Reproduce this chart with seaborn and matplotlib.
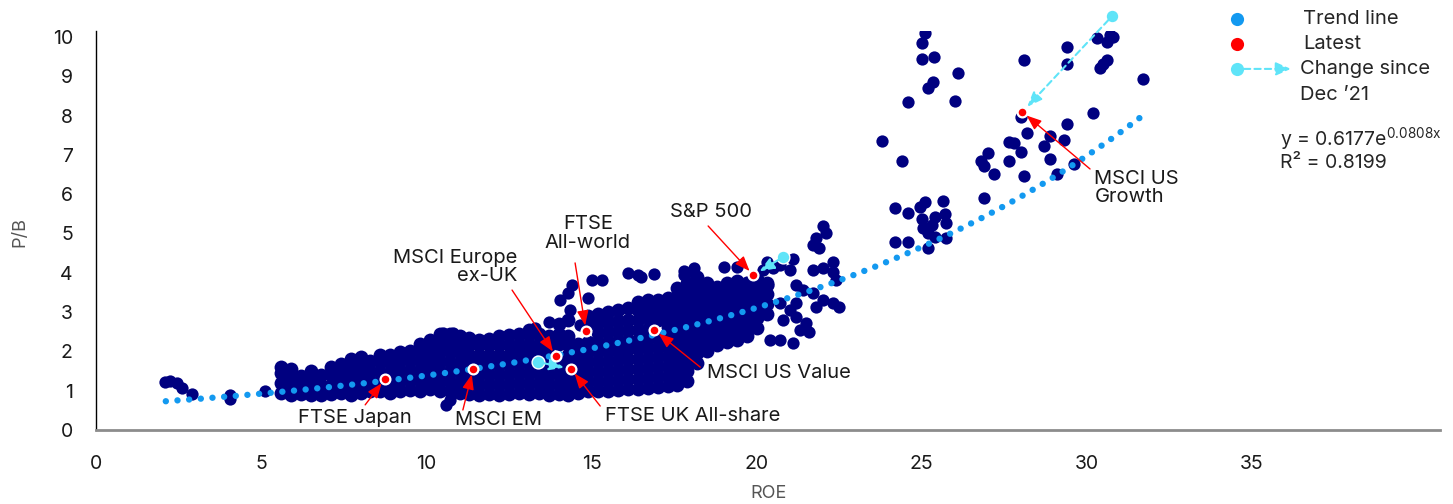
import numpy as np
import pandas as pd
import seaborn as sns
import matplotlib.pyplot as plt

sns.set_style('white')
plt.rcParams['font.family'] = ['Inter', 'DejaVu Sans']
plt.rcParams['mathtext.fontset'] = 'custom'
plt.rcParams['mathtext.rm'] = 'Inter'

NAVY = '#000080'
TREND = '#1399f0'
CYAN = '#5fe4f8'
RED = '#ff0000'

# history of ROE vs P/B, main band, one column of points per ROE value
band_roe = [5.6, 5.9, 6.2, 6.5, 6.8, 7.1, 7.4, 7.7, 8.0, 8.3, 8.6, 8.9, 9.2, 9.5,
            9.8, 10.1, 10.4, 10.7, 11.0, 11.3, 11.6, 11.9, 12.2, 12.5, 12.8, 13.1,
            13.4, 13.7, 14.0, 14.3, 14.6, 14.9, 15.2, 15.5, 15.8, 16.1, 16.4, 16.7,
            17.0, 17.3, 17.6, 17.9, 18.2, 18.5, 18.8, 19.1, 19.4, 19.7, 20.0, 20.3]
band_pb = [
    [0.95, 1.2, 1.45, 1.6], [0.88, 1.1, 1.35, 1.55], [0.92, 1.15, 1.38],
    [0.88, 1.1, 1.32, 1.5], [0.9, 1.15, 1.4], [0.92, 1.15, 1.4, 1.6],
    [0.95, 1.2, 1.45, 1.68], [0.9, 1.15, 1.4, 1.65, 1.8], [0.95, 1.2, 1.45, 1.7, 1.85],
    [1.0, 1.25, 1.5, 1.75], [0.98, 1.22, 1.48, 1.72, 1.9], [0.95, 1.2, 1.45, 1.7, 1.92],
    [1.0, 1.25, 1.5, 1.75, 1.98], [1.02, 1.27, 1.52, 1.77, 2.02],
    [1.0, 1.25, 1.5, 1.75, 2.0, 2.2], [1.05, 1.3, 1.55, 1.8, 2.05, 2.28],
    [1.0, 1.25, 1.5, 1.75, 2.0, 2.25, 2.45], [0.98, 1.22, 1.48, 1.72, 1.98, 2.22, 2.45],
    [0.95, 1.2, 1.45, 1.7, 1.95, 2.2, 2.4], [0.92, 1.17, 1.42, 1.67, 1.92, 2.17, 2.35],
    [0.9, 1.15, 1.4, 1.65, 1.9, 2.15, 2.3], [0.92, 1.17, 1.42, 1.67, 1.92, 2.17, 2.32],
    [0.9, 1.15, 1.4, 1.65, 1.9, 2.15, 2.38], [0.92, 1.17, 1.42, 1.67, 1.92, 2.17, 2.42],
    [0.95, 1.2, 1.45, 1.7, 1.95, 2.2, 2.45], [0.92, 1.17, 1.42, 1.67, 1.92, 2.17, 2.42, 2.55],
    [0.95, 1.2, 1.45, 1.7, 1.95, 2.2, 2.45], [0.9, 1.15, 1.4, 1.65, 1.9, 2.15, 2.4],
    [0.92, 1.17, 1.42, 1.67, 2.2, 2.45, 2.7], [0.9, 1.15, 1.4, 1.65, 1.9, 2.15, 2.4, 2.8],
    [0.95, 1.2, 1.45, 1.7, 1.95, 2.2], [1.0, 1.25, 1.5, 1.75, 2.0, 2.25, 2.7, 2.9],
    [0.98, 1.22, 1.48, 1.72, 1.98, 2.22, 2.48, 2.72, 2.95],
    [1.0, 1.25, 1.5, 1.75, 2.0, 2.25, 2.5, 2.75, 3.0],
    [1.02, 1.27, 1.52, 1.77, 2.02, 2.27, 2.52, 2.77, 3.05],
    [1.05, 1.3, 1.55, 1.8, 2.05, 2.3, 2.55, 2.8, 3.1],
    [1.05, 1.3, 1.55, 1.8, 2.05, 2.3, 2.55, 2.8, 3.05, 3.25],
    [1.08, 1.33, 1.58, 1.83, 2.08, 2.33, 2.58, 2.85, 3.1, 3.3],
    [1.1, 1.35, 1.6, 1.85, 2.1, 2.35, 2.8, 3.05, 3.3],
    [1.12, 1.37, 1.62, 1.87, 2.12, 2.37, 2.62, 2.87, 3.12, 3.35],
    [1.15, 1.4, 1.65, 1.9, 2.15, 2.4, 2.65, 2.9, 3.15, 3.4, 3.6],
    [1.25, 1.5, 1.75, 2.0, 2.25, 2.5, 2.75, 3.0, 3.25, 3.5, 3.75],
    [1.7, 1.95, 2.2, 2.45, 2.7, 2.95, 3.2, 3.45, 3.7, 3.9],
    [2.0, 2.25, 2.5, 2.75, 3.0, 3.25, 3.5, 3.75],
    [2.15, 2.4, 2.65, 2.9, 3.15, 3.4, 3.65],
    [2.25, 2.5, 2.75, 3.0, 3.25, 3.5, 3.75],
    [2.3, 2.55, 2.8, 3.05, 3.3, 3.55, 3.8],
    [2.4, 2.65, 2.9, 3.15, 3.4, 3.65],
    [2.6, 2.85, 3.1, 3.35, 3.6, 3.85],
    [2.95, 3.2, 3.45, 3.75],
]

# scattered points outside the band
low_roe = [2.08, 2.23, 2.44, 2.6, 2.9, 4.05, 4.05, 5.1, 10.7, 10.6]
low_pb = [1.22, 1.25, 1.2, 1.07, 0.92, 0.89, 0.8, 1.0, 0.76, 0.64]

mid_roe = [16.1, 16.4, 16.5, 16.9, 17.8, 18.1, 15.0, 15.3, 14.4, 14.3, 14.05, 14.9,
           14.35, 13.7, 13.3, 14.65, 15.2, 10.5, 10.8, 18.1, 17.8]
mid_pb = [4.0, 3.94, 3.89, 3.97, 3.94, 4.0, 3.82, 3.82, 3.69, 3.49, 3.31, 3.36,
          3.05, 2.75, 2.6, 2.67, 2.75, 2.47, 2.47, 4.12, 4.05]

right_roe = [22.0, 22.1, 21.8, 21.7, 21.9, 21.1, 20.7, 21.0, 20.3, 20.2, 20.5, 19.0,
             19.4, 19.7, 20.1, 20.35, 21.7, 22.0, 22.3, 22.3, 22.4, 21.2, 21.4, 21.7,
             22.0, 21.8, 22.3, 22.5, 21.2, 21.0, 21.2, 21.5, 21.3, 21.6, 20.8, 20.7,
             20.4, 20.7, 21.1]
right_pb = [5.19, 5.01, 4.89, 4.71, 4.63, 4.35, 4.2, 4.07, 4.27, 4.07, 4.12, 4.15,
            4.15, 3.77, 3.69, 3.69, 4.07, 4.12, 4.27, 4.02, 3.82, 3.69, 3.56, 3.49,
            3.31, 3.13, 3.23, 3.13, 3.23, 3.05, 2.88, 2.72, 2.54, 2.49, 2.8, 3.23,
            2.29, 2.29, 2.21]

high_roe = [25.1, 25.0, 25.0, 25.38, 26.1, 25.35, 25.2, 24.6, 26.0, 23.8, 24.4, 28.1,
            29.4, 29.4, 30.3, 30.6, 30.7, 30.8, 30.6, 30.5, 30.4, 31.7, 30.2, 29.4,
            28.0, 28.2, 28.9, 29.3, 28.7, 27.65, 27.8, 27.0, 26.8, 26.9, 27.65, 28.0,
            28.9, 29.6, 27.2, 28.1, 29.1, 26.9, 24.2, 24.6, 24.95, 25.1, 25.65, 25.0,
            25.4, 25.7, 25.05, 25.3, 25.75, 25.2, 25.4, 25.75, 24.2, 24.6, 25.2]
high_pb = [10.1, 9.85, 9.44, 9.49, 9.08, 8.85, 8.7, 8.35, 8.37, 7.35, 6.85, 9.41,
           9.75, 9.31, 9.97, 9.87, 10.05, 10.0, 9.41, 9.31, 9.21, 8.93, 8.07, 7.79,
           7.96, 7.56, 7.48, 7.38, 7.23, 7.33, 7.3, 7.05, 6.84, 6.72, 6.84, 7.07,
           6.9, 6.77, 6.51, 6.46, 6.51, 5.9, 5.65, 5.52, 5.67, 5.8, 5.83, 5.37,
           5.42, 5.5, 5.14, 5.22, 5.27, 5.01, 4.91, 4.89, 4.78, 4.78, 4.63]

# latest readings
latest_names = ['FTSE Japan', 'MSCI EM', 'MSCI Europe ex-UK', 'FTSE UK All-share',
                'FTSE All-world', 'MSCI US Value', 'S&P 500', 'MSCI US Growth']
latest_roe = [8.74, 11.41, 13.92, 14.38, 14.83, 16.9, 19.9, 28.05]
latest_pb = [1.30, 1.55, 1.88, 1.55, 2.52, 2.54, 3.94, 8.09]

# Dec '21 readings (where shown)
dec21_names = ['FTSE UK All-share', 'S&P 500', 'MSCI US Growth']
dec21_roe = [13.38, 20.8, 30.77]
dec21_pb = [1.73, 4.40, 10.53]

# exponential trend shown on the chart
trend_a, trend_b = 0.6177, 0.0808
trend_start, trend_end = 2.1, 31.6

band = pd.DataFrame({
    'roe': [x for x, ys in zip(band_roe, band_pb) for _ in ys],
    'pb': [y for ys in band_pb for y in ys],
})
loose = pd.DataFrame({
    'roe': low_roe + mid_roe + right_roe + high_roe,
    'pb': low_pb + mid_pb + right_pb + high_pb,
})
trend_x = np.linspace(trend_start, trend_end, 300)
trend_y = trend_a * np.exp(trend_b * trend_x)

fig, ax = plt.subplots(figsize=(14.53, 5.04), dpi=100)
fig.subplots_adjust(left=0.0664, right=0.991, bottom=0.1468, top=0.9385)

sns.scatterplot(data=band, x='roe', y='pb', color=NAVY, s=100, linewidth=0, ax=ax, zorder=2)
sns.scatterplot(data=loose, x='roe', y='pb', color=NAVY, s=78, linewidth=0, ax=ax, zorder=2)
sns.lineplot(x=trend_x, y=trend_y, color=TREND, lw=4.6, linestyle=(0, (0.01, 1.82)),
             dash_capstyle='round', ax=ax, zorder=3)
sns.scatterplot(x=dec21_roe, y=dec21_pb, color=CYAN, s=85, edgecolor='white', linewidth=1,
                ax=ax, zorder=4, clip_on=False)
sns.scatterplot(x=latest_roe, y=latest_pb, color=RED, s=50, edgecolor='white', linewidth=1.6,
                ax=ax, zorder=6)

# change since Dec '21
for name, x0, y0 in zip(dec21_names, dec21_roe, dec21_pb):
    i = latest_names.index(name)
    ax.annotate('', xy=(latest_roe[i], latest_pb[i]), xytext=(x0, y0),
                arrowprops=dict(arrowstyle='-|>,head_length=0.9,head_width=0.35', color=CYAN,
                                lw=1.5, ls=(0, (3, 2)), shrinkA=4, shrinkB=5), zorder=5)

# labels: text position, alignment, arrow tail
labels = {
    'FTSE Japan': ('FTSE Japan', 7.83, 0.31, 'center', (8.14, 0.64)),
    'MSCI EM': ('MSCI EM', 12.17, 0.25, 'center', (11.1, 0.51)),
    'MSCI Europe ex-UK': ('MSCI Europe\nex-UK', 12.74, 4.15, 'right', (12.59, 3.56)),
    'FTSE All-world': ('FTSE\nAll-world', 14.89, 5.0, 'center', (14.5, 4.25)),
    'S&P 500': ('S&P 500', 18.62, 5.55, 'center', (18.53, 5.19)),
    'MSCI US Value': ('MSCI US Value', 18.5, 1.45, 'left', (18.29, 1.6)),
    'FTSE UK All-share': ('FTSE UK All-share', 15.41, 0.36, 'left', (15.26, 0.61)),
    'MSCI US Growth': ('MSCI US\nGrowth', 30.23, 6.16, 'left', (30.1, 6.64)),
}
for name, x, y in zip(latest_names, latest_roe, latest_pb):
    txt, tx, ty, ha, tail = labels[name]
    ax.text(tx, ty, txt, ha=ha, va='center', multialignment=ha, fontsize=14.5,
            color='#1a1a1a', linespacing=1.05, zorder=7)
    ax.annotate('', xy=(x, y), xytext=tail,
                arrowprops=dict(arrowstyle='-|>,head_length=0.9,head_width=0.35', color=RED,
                                lw=1, shrinkA=0, shrinkB=4), zorder=7)

# legend
ax.scatter([0.849], [1.030], s=90, color=TREND, transform=ax.transAxes, clip_on=False, lw=0)
ax.scatter([0.849], [0.968], s=90, color=RED, transform=ax.transAxes, clip_on=False, lw=0)
ax.scatter([0.849], [0.905], s=90, color=CYAN, transform=ax.transAxes, clip_on=False, lw=0)
ax.annotate('', xy=(0.889, 0.905), xytext=(0.849, 0.905), xycoords='axes fraction',
            arrowprops=dict(arrowstyle='-|>,head_length=0.9,head_width=0.4', color=CYAN,
                            lw=1.5, ls=(0, (3, 2)), shrinkA=5, shrinkB=0))
ax.text(0.898, 1.030, 'Trend line', transform=ax.transAxes, va='center', fontsize=14.5)
ax.text(0.898, 0.967, 'Latest', transform=ax.transAxes, va='center', fontsize=14.5)
ax.text(0.896, 0.905, 'Change since', transform=ax.transAxes, va='center', fontsize=14.5)
ax.text(0.896, 0.840, 'Dec \u201921', transform=ax.transAxes, va='center', fontsize=14.5)
ax.text(0.881, 0.729, 'y = 0.6177e$\\mathregular{^{0.0808x}}$', transform=ax.transAxes,
        va='center', fontsize=14)
ax.text(0.881, 0.669, 'R\u00b2 = 0.8199', transform=ax.transAxes, va='center', fontsize=14)

ax.set_xlim(0, 40.7)
ax.set_ylim(0, 10.15)
ax.set_xticks(range(0, 40, 5))
ax.set_yticks(range(0, 11))
ax.tick_params(length=0, labelsize=14, colors='#1a1a1a')
ax.tick_params(axis='x', pad=18)
ax.tick_params(axis='y', pad=17)
ax.set_xlabel('ROE', fontsize=13, color='#555555')
ax.set_ylabel('P/B', fontsize=13, color='#555555')
ax.xaxis.set_label_coords(0.5, -0.138)
ax.yaxis.set_label_coords(-0.051, 0.496)
sns.despine(ax=ax)
ax.spines['left'].set_color('black')
ax.spines['left'].set_linewidth(1)
ax.spines['bottom'].set_color('#8c8c8c')
ax.spines['bottom'].set_linewidth(2)

fig.savefig('out.png', dpi=100)
